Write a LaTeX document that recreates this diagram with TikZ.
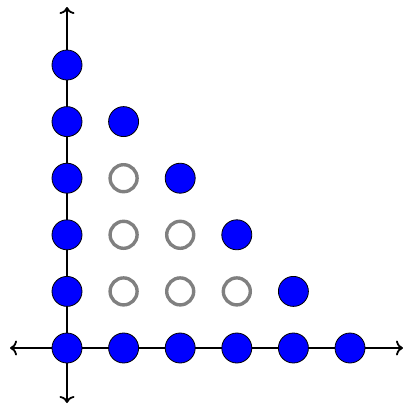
\documentclass[tikz,border=0pt]{standalone}
\usetikzlibrary{arrows.meta}
\begin{document}
\begin{tikzpicture}[x=1pt,y=-1pt,
  dot/.style={circle,draw=black,fill=blue,line width=0.8pt,minimum size=30pt,inner sep=0pt},
  hole/.style={circle,draw=gray,line width=3.4pt,minimum size=27pt,inner sep=0pt},
  axis/.style={line width=1.8pt,-{To[length=7pt,width=15pt]}}]
\useasboundingbox (0,0) rectangle (403,405);
\def\s{56.6}
\coordinate (L) at (10,348);
\coordinate (R) at (403,348);
\coordinate (T) at (67,7);
\coordinate (B) at (67,403);
\coordinate (O) at (67,348);
\draw[axis] (O) -- (L);
\draw[axis] (O) -- (R);
\draw[axis] (O) -- (T);
\draw[axis] (O) -- (B);
\begin{scope}[shift={(67,348)}]
\foreach \i in {0,...,5} \node[dot] (v\i) at (0,-\i*\s) {};
\foreach \i in {1,...,5} \node[dot] (h\i) at (\i*\s,0) {};
\foreach \i/\j in {1/4,2/3,3/2,4/1} \node[dot] (d\i) at (\i*\s,-\j*\s) {};
\foreach \i/\j in {1/1,1/2,1/3,2/1,2/2,3/1} \node[hole] (g\i\j) at (\i*\s,-\j*\s) {};
\end{scope}
\end{tikzpicture}
\end{document}
